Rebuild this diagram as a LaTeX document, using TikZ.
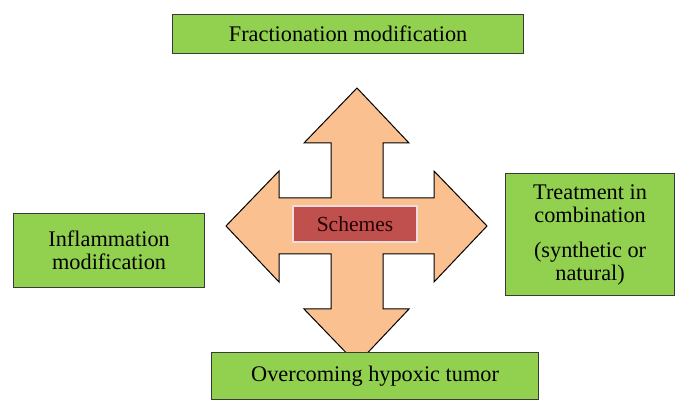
\documentclass[tikz,border=0pt]{standalone}
\usepackage{fontspec}
\setmainfont{Liberation Serif}
\definecolor{boxgreen}{HTML}{92D050}
\definecolor{boxedge}{HTML}{3A3A3A}
\definecolor{arrowfill}{HTML}{FAC090}
\definecolor{schemefill}{HTML}{C0504D}
\definecolor{schemeedge}{HTML}{F2DCDB}
\begin{document}
\begin{tikzpicture}[x=1pt,y=-1pt,
  greenbox/.style={draw=boxedge, line width=1.2pt, fill=boxgreen, inner sep=0pt,
    anchor=north west, align=center, text=black,
    font=\fontsize{22.3}{23}\selectfont},
  crossarrow/.style={draw=black, line width=1pt, fill=arrowfill, line join=miter},
  schemebox/.style={draw=schemeedge, line width=1.2pt, fill=schemefill, inner sep=0pt,
    minimum width=124pt, minimum height=36pt, text=black!85!red,
    font=\fontsize{21.5}{23}\selectfont}]
\useasboundingbox (0,0) rectangle (689,414);
% cross arrow
\draw[crossarrow] (357,88) -- (409,143) -- (383,143) -- (383,198) -- (434,198) -- (434,171)
  -- (487,226) -- (434,282) -- (434,254) -- (383,254) -- (383,309) -- (409,309)
  -- (357,364) -- (304,309) -- (331,309) -- (331,254) -- (279,254) -- (279,282)
  -- (226,226) -- (279,171) -- (279,198) -- (331,198) -- (331,143) -- (304,143) -- cycle;
\node[schemebox] (schemes) at (355,224) {Schemes};
% boxes
\node[greenbox, minimum width=351pt, minimum height=39pt] (frac) at (172,14)
  {Fractionation modification};
\node[greenbox, minimum width=191pt, minimum height=74pt] (infl) at (13,213)
  {Inflammation\\modification};
\node[greenbox, minimum width=169pt, minimum height=122pt] (treat) at (505,173)
  {Treatment in\\combination\\[12pt](synthetic or\\natural)};
\node[greenbox, minimum width=327pt, minimum height=47pt] (hyp) at (211,352)
  {Overcoming hypoxic tumor};
\end{tikzpicture}
\end{document}
